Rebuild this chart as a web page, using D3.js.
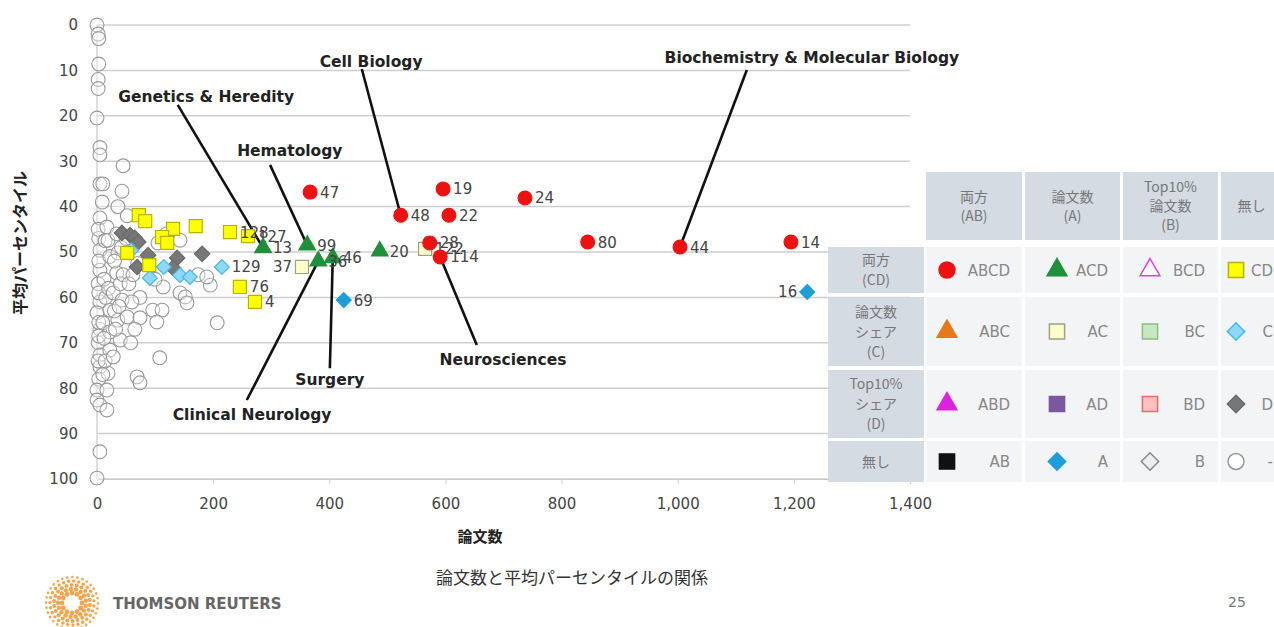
<!DOCTYPE html>
<html><head><meta charset="utf-8">
<script src="https://cdn.jsdelivr.net/npm/d3@7"></script>
<style>
html,body{margin:0;padding:0;background:#fff;}
svg{display:block;}
</style></head>
<body>
<svg id="chart" width="1274" height="627"></svg>
<script>
// ---------------- DATA ----------------
const xTicks = [0,200,400,600,800,1000,1200,1400];
const yTicks = [0,10,20,30,40,50,60,70,80,90,100];
// [papers, avg percentile, label]
const seriesABCD = [[367,36.8,"47"],[596,36.1,"19"],[523,41.9,"48"],[606,41.9,"22"],[737,38.1,"24"],[845,47.8,"80"],[1004,48.9,"44"],[1195,47.8,"14"],[573,48.0,"28"],[591,51.1,"114"]];
const seriesACD = [[286,49.1,"13"],[362,48.5,"99"],[487,49.8,"20"],[381,52.0,"36"],[406,51.3,"46"]];
const seriesAC = [[565,49.3,"122"],[353,53.3,"37"]];
const seriesCD = [[72,41.9,""],[83,43.2,""],[131,44.9,""],[112,46.7,""],[121,48.0,""],[170,44.3,""],[229,45.6,"128"],[260,46.5,"127"],[52,50.2,""],[90,52.9,""],[246,57.7,"76"],[272,61.0,"4"]];
const seriesD = [[43,45.8],[57,46.3],[65,46.9],[71,47.8],[88,50.7],[69,53.3],[138,51.3],[131,53.5],[181,50.4]];
const seriesC = [[59,49.6,""],[91,55.7,""],[115,53.3,""],[143,55.1,""],[160,55.5,""],[215,53.3,"129"]];
const seriesA = [[425,60.6,"69"],[1223,58.8,"16"]];
const seriesNone = [[0,0],[2,2],[3,3],[3,8.6],[2,12],[2,14],[0,20.5],[5,27],[5,28.6],[5,35],[9,39],[5,42.5],[3,47],[5,49.6],[5,54],[2,57],[5,61],[0,63.4],[5,67],[2,70],[5,72.7],[5,75.3],[3,78],[0,80.4],[0,82.6],[5,83.7],[5,94],[0,99.8],[3,65.5],[3,59],[3,52],[2,45],[3,68.5],[2,74],
[10,35],[17,44.5],[14,47.5],[19,47.4],[22,51],[10,65.6],[22,62.8],[22,67.6],[22,71.6],[19,76.7],[17,80.4],[17,84.8],[12,56],[15,60],[20,58],[12,69],[14,74],[10,77],
[45,31],[43,36.6],[36,40],[34,46],[36,50.2],[34,54.6],[28,59],[43,60.6],[36,65],[40,69.4],[28,73.1],[30,63],[40,57],[32,67],[38,62],[45,55],[30,52],[42,49],
[52,42],[52,64.3],[74,60],[74,64.5],[69,77.5],[74,78.8],[55,57],[60,61],[65,67],[58,70],[62,55],[70,52.5],[50,47],
[96,62.8],[112,62.8],[103,65.4],[108,73.3],[114,57.7],[100,56],[105,48],[120,46],
[143,59],[152,59.9],[155,61.2],[174,55],[195,57.3],[207,65.6],[189,55.5],[143,47.4]];
// annotations: name, text anchor [papers, percentile], line start, line target
const annotations = [
 {name:"Cell Biology", text:[472,9.25], from:[456,9.7], to:[523,41.9]},
 {name:"Genetics & Heredity", text:[188,17.0], from:[139,17.6], to:[286,49.1]},
 {name:"Hematology", text:[332,28.9], from:[298,30.8], to:[362,48.5]},
 {name:"Biochemistry & Molecular Biology", text:[1231,8.4], from:[1119,9.9], to:[1004,48.9]},
 {name:"Neurosciences", text:[699,74.9], from:[654,70.5], to:[591,51.1]},
 {name:"Surgery", text:[401,79.3], from:[401,75.6], to:[406,51.3]},
 {name:"Clinical Neurology", text:[267,87.0], from:[258,82.6], to:[381,52.0]}
];
const leftLabels = ["16","37"];
const colHeaders = ["両方\n(AB)","論文数\n(A)","Top10%\n論文数\n(B)","無し"];
const rowHeaders = ["両方\n(CD)","論文数\nシェア\n(C)","Top10%\nシェア\n(D)","無し"];
const legendCodes = [["ABCD","ACD","BCD","CD"],["ABC","AC","BC","C"],["ABD","AD","BD","D"],["AB","A","B","-"]];
const xTitle = "論文数", yTitle = "平均パーセンタイル", caption = "論文数と平均パーセンタイルの関係";

// ---------------- STYLES ----------------
const styles = {
 "ABCD":{shape:"circle",fill:"#ee1111",stroke:"#ee1111"},
 "ACD":{shape:"triangle",fill:"#1f8f3a",stroke:"#1f8f3a"},
 "BCD":{shape:"triangle",fill:"#ffffff",stroke:"#e040e0"},
 "CD":{shape:"square",fill:"#ffff00",stroke:"#b5b500"},
 "ABC":{shape:"triangle",fill:"#e87818",stroke:"#e87818"},
 "AC":{shape:"square",fill:"#ffffcc",stroke:"#a0a080"},
 "BC":{shape:"square",fill:"#c8e6c0",stroke:"#88c080"},
 "C":{shape:"diamond",fill:"#8fd8f8",stroke:"#48b8e8"},
 "ABD":{shape:"triangle",fill:"#e020e0",stroke:"#e020e0"},
 "AD":{shape:"square",fill:"#7a58a0",stroke:"#7a58a0"},
 "BD":{shape:"square",fill:"#ffc0c0",stroke:"#e86a6a"},
 "D":{shape:"diamond",fill:"#777777",stroke:"#6a6a6a"},
 "AB":{shape:"square",fill:"#111111",stroke:"#111111"},
 "A":{shape:"diamond",fill:"#1c9fd8",stroke:"#1c9fd8"},
 "B":{shape:"diamond",fill:"#eeeeee",stroke:"#888888"},
 "-":{shape:"circle",fill:"#ffffff",stroke:"#999999"}
};
// square-based diamond (square rotated 45deg)
const diamondSym = {draw(ctx,size){const r=Math.sqrt(size/2);ctx.moveTo(0,-r);ctx.lineTo(r,0);ctx.lineTo(0,r);ctx.lineTo(-r,0);ctx.closePath();}};
const shapeSym = {circle:d3.symbolCircle,triangle:d3.symbolTriangle,square:d3.symbolSquare,diamond:diamondSym};
const shapeSize = {circle:140,triangle:110,square:150,diamond:110};

const svg = d3.select("#chart");
const x = d3.scaleLinear().domain([0,1400]).range([97,910]);
const y = d3.scaleLinear().domain([0,100]).range([25,479]);

// grid
svg.append("g").selectAll("line").data(yTicks).join("line")
 .attr("x1",x(0)).attr("x2",x(1400)).attr("y1",d=>y(d)).attr("y2",d=>y(d))
 .attr("stroke","#cfcfcf").attr("stroke-width",1.5);
svg.append("line").attr("x1",x(0)).attr("x2",x(0)).attr("y1",y(0)).attr("y2",y(100)).attr("stroke","#c8c8c8").attr("stroke-width",1.2);

// axes
const yAxis = svg.append("g").attr("transform",`translate(${x(0)},0)`)
 .call(d3.axisLeft(y).tickValues(yTicks).tickSize(0).tickPadding(19));
yAxis.select(".domain").remove();
yAxis.selectAll("text").attr("font-family","DejaVu Sans").attr("font-size",15).attr("fill","#444");
const xAxis = svg.append("g").attr("transform",`translate(0,${y(100)})`)
 .call(d3.axisBottom(x).tickValues(xTicks).tickSize(5).tickPadding(14).tickFormat(d3.format(",")));
xAxis.select(".domain").attr("stroke","#c8c8c8");
xAxis.selectAll("line").attr("stroke","#d0d0d0");
xAxis.selectAll("text").attr("font-family","DejaVu Sans").attr("font-size",15).attr("fill","#444");

svg.append("text").attr("x",480).attr("y",542).attr("text-anchor","middle")
 .attr("font-family","Noto Sans CJK JP").attr("font-weight","bold").attr("font-size",15).attr("fill","#222").text(xTitle);
svg.append("text").attr("transform","translate(26,243) rotate(-90)").attr("text-anchor","middle")
 .attr("font-family","Noto Sans CJK JP").attr("font-weight","bold").attr("font-size",16).attr("fill","#222").text(yTitle);

// annotation lines
const annG = svg.append("g");
annG.selectAll("line").data(annotations).join("line")
 .attr("x1",d=>x(d.from[0])).attr("y1",d=>y(d.from[1])).attr("x2",d=>x(d.to[0])).attr("y2",d=>y(d.to[1]))
 .attr("stroke","#111").attr("stroke-width",2.6);

// markers
function drawSeries(data, code, opts={}){
 const st = styles[code];
 const g = svg.append("g");
 g.selectAll("path").data(data).join("path")
  .attr("transform",d=>`translate(${x(d[0])},${y(d[1])})`)
  .attr("d",d3.symbol().type(shapeSym[st.shape]).size(opts.size||shapeSize[st.shape]))
  .attr("fill",st.fill).attr("fill-opacity",opts.fillOpacity==null?1:opts.fillOpacity)
  .attr("stroke",st.stroke).attr("stroke-width",opts.sw||1.2);
 g.selectAll("text").data(data.filter(d=>d[2])).join("text")
  .attr("x",d=>leftLabels.includes(d[2])? x(d[0])-10 : x(d[0])+10)
  .attr("y",d=>y(d[1])+5.5)
  .attr("text-anchor",d=>leftLabels.includes(d[2])?"end":"start")
  .attr("font-family","DejaVu Sans").attr("font-size",15).attr("fill","#444").text(d=>d[2]);
}
drawSeries(seriesNone,"-",{fillOpacity:0.35,size:150,sw:1.1});
drawSeries(seriesD,"D",{size:120});
drawSeries(seriesC,"C",{size:110});
drawSeries(seriesCD,"CD",{size:170});
drawSeries(seriesAC,"AC",{size:170});
drawSeries(seriesACD,"ACD",{size:120});
drawSeries(seriesA,"A",{size:110});
drawSeries(seriesABCD,"ABCD",{size:150});

// annotation text
annG.selectAll("text").data(annotations).join("text")
 .attr("x",d=>x(d.text[0])).attr("y",d=>y(d.text[1])).attr("text-anchor","middle")
 .attr("font-family","DejaVu Sans").attr("font-weight","bold").attr("font-size",15.5).attr("fill","#222").text(d=>d.name);

// ---------------- LEGEND TABLE ----------------
const cols = [[926,1022],[1025,1120],[1123,1218],[1221,1300]];
const rows = [[247,293],[297,366],[370,438],[441,482]];
const headRow = [172,240];
const rowLabelCol = [828,924];
const lg = svg.append("g");
cols.forEach((c,i)=>{
 lg.append("rect").attr("x",c[0]).attr("y",headRow[0]).attr("width",c[1]-c[0]).attr("height",headRow[1]-headRow[0]).attr("fill","#d5dbe3");
 const lines = colHeaders[i].split("\n");
 const cy = (headRow[0]+headRow[1])/2, lh=19;
 lines.forEach((t,k)=>{
  lg.append("text").attr("x",(c[0]+Math.min(c[1],1290))/2 + (i==3?-4:0)).attr("y",cy+(k-(lines.length-1)/2)*lh+5)
   .attr("text-anchor","middle").attr("font-family","Noto Sans CJK JP").attr("font-size",14).attr("fill","#777").text(t);
 });
});
rows.forEach((r,j)=>{
 lg.append("rect").attr("x",rowLabelCol[0]).attr("y",r[0]).attr("width",rowLabelCol[1]-rowLabelCol[0]).attr("height",r[1]-r[0]).attr("fill","#d5dbe3");
 const lines = rowHeaders[j].split("\n");
 const cy=(r[0]+r[1])/2, lh=20;
 lines.forEach((t,k)=>{
  lg.append("text").attr("x",876).attr("y",cy+(k-(lines.length-1)/2)*lh+5)
   .attr("text-anchor","middle").attr("font-family","Noto Sans CJK JP").attr("font-size",14).attr("fill","#777").text(t);
 });
 cols.forEach((c,i)=>{
  lg.append("rect").attr("x",c[0]).attr("y",r[0]).attr("width",c[1]-c[0]).attr("height",r[1]-r[0]).attr("fill","#f3f4f6");
  const code = legendCodes[j][i];
  const st = styles[code];
  const mx = [947,1057,1150,1236][i];
  const my = (r[0]+r[1])/2;
  lg.append("path").attr("transform",`translate(${mx},${my})`)
   .attr("d",d3.symbol().type(shapeSym[st.shape]).size({circle:200,triangle:170,square:230,diamond:150}[st.shape]))
   .attr("fill",st.fill).attr("stroke",st.stroke).attr("stroke-width",1.5);
  lg.append("text").attr("x",[1010,1108,1205,1273][i]).attr("y",my+5.5).attr("text-anchor","end")
   .attr("font-family","DejaVu Sans").attr("font-size",15).attr("fill","#888").text(code);
 });
});

// ---------------- FOOTER ----------------
svg.append("text").attr("x",572).attr("y",584).attr("text-anchor","middle")
 .attr("font-family","Noto Sans CJK JP").attr("font-size",17).attr("fill","#333").text(caption);
const logo = svg.append("g").attr("transform","translate(72,603)");
[[10,2.4],[14,2.2],[18,2.0],[22,1.7],[26,1.3]].forEach(([rad,dr],k)=>{
 const cnt = 12+k*5;
 for(let i=0;i<cnt;i++){
  const a = i/cnt*2*Math.PI + k*0.2;
  logo.append("circle").attr("cx",rad*Math.cos(a)).attr("cy",rad*Math.sin(a)).attr("r",dr).attr("fill","#f29a3a").attr("opacity",0.9);
 }
});
svg.append("text").attr("x",113).attr("y",609).attr("font-family","DejaVu Sans").attr("font-weight","bold")
 .attr("font-size",15).attr("fill","#666").text("THOMSON REUTERS");
svg.append("text").attr("x",1237).attr("y",607).attr("text-anchor","middle").attr("font-family","DejaVu Sans")
 .attr("font-size",14).attr("fill","#777").text("25");
</script>
</body></html>
